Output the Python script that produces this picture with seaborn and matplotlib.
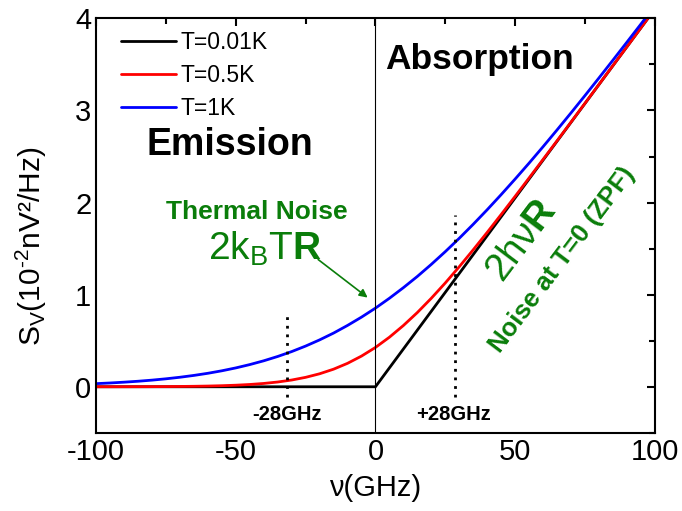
import pandas as pd
import matplotlib
matplotlib.use('Agg')
import matplotlib.pyplot as plt
import seaborn as sns

# frequency grid (GHz) and spectral density S_V (10^-2 nV^2/Hz)
freq = [-100, -95, -90, -85, -80, -75, -70, -65, -60, -55, -50, -45, -40, -35, -30,
        -25, -20, -15, -10, -5, 0, 5, 10, 15, 20, 25, 30, 35, 40, 45, 50, 55, 60,
        65, 70, 75, 80, 85, 90, 95, 100]
s_001K = [0, 0, 0, 0, 0, 0, 0, 0, 0, 0, 0, 0, 0, 0, 0, 0, 0, 0, 0, 0, 0,
          0.205, 0.41, 0.615, 0.82, 1.025, 1.23, 1.435, 1.64, 1.845, 2.05, 2.255,
          2.46, 2.665, 2.87, 3.075, 3.28, 3.485, 3.69, 3.895, 4.10]
s_05K = [0.0003, 0.0004, 0.0007, 0.0010, 0.0015, 0.0023, 0.0035, 0.0052, 0.0078,
         0.0116, 0.0170, 0.0249, 0.0360, 0.0517, 0.0732, 0.1024, 0.141, 0.191,
         0.2545, 0.333, 0.427, 0.538, 0.665, 0.806, 0.961, 1.127, 1.303, 1.487,
         1.676, 1.870, 2.067, 2.267, 2.468, 2.670, 2.873, 3.077, 3.281, 3.486,
         3.690, 3.895, 4.100]
s_1K = [0.0341, 0.0412, 0.0499, 0.0600, 0.0721, 0.0865, 0.1034, 0.1233, 0.1464,
        0.1735, 0.2048, 0.2409, 0.282, 0.329, 0.382, 0.442, 0.509, 0.583, 0.666,
        0.756, 0.854, 0.961, 1.076, 1.198, 1.329, 1.467, 1.612, 1.764, 1.922,
        2.086, 2.255, 2.428, 2.606, 2.788, 2.973, 3.161, 3.352, 3.545, 3.740,
        3.936, 4.134]
temps = ['T=0.01K', 'T=0.5K', 'T=1K']
colors = ['black', 'red', 'blue']

df = pd.concat([
    pd.DataFrame({'nu': freq, 'S': s, 'T': t})
    for s, t in zip([s_001K, s_05K, s_1K], temps)
])

sns.set_style('white')
plt.rcParams['font.family'] = ['Liberation Sans', 'DejaVu Sans']
plt.rcParams['mathtext.fontset'] = 'custom'
plt.rcParams['mathtext.rm'] = 'Liberation Sans'
plt.rcParams['mathtext.it'] = 'Liberation Sans:italic'
plt.rcParams['mathtext.bf'] = 'Liberation Sans:bold'
plt.rcParams['axes.unicode_minus'] = False
for key in ['text.color', 'axes.labelcolor', 'xtick.color', 'ytick.color']:
    plt.rcParams[key] = 'black'

green = '#0a7d0a'

fig = plt.figure(figsize=(6.82, 5.11), dpi=100)
ax = fig.add_axes([0.141, 0.153, 0.819, 0.811])

sns.lineplot(data=df, x='nu', y='S', hue='T', hue_order=temps,
             palette=colors, linewidth=2, sort=False, ax=ax)

ax.axvline(0, color='black', linewidth=0.8)

# dotted markers at +-28 GHz
ax.plot([-31.7, -31.7], [-0.11, 0.80], color='black', lw=2, linestyle=(0, (1, 2.1)))
ax.plot([28.5, 28.5], [-0.11, 1.87], color='black', lw=2, linestyle=(0, (1, 2.1)))
ax.text(-31.7, -0.30, '-28GHz', ha='center', va='center', fontsize=14.5, fontweight='bold')
ax.text(28.0, -0.30, '+28GHz', ha='center', va='center', fontsize=14.5, fontweight='bold')

ax.text(-52, 2.63, 'Emission', ha='center', va='center', fontsize=27, fontweight='bold')
ax.text(37.4, 3.55, 'Absorption', ha='center', va='center', fontsize=25.5, fontweight='bold')

ax.text(-42.4, 1.90, 'Thermal Noise', ha='center', va='center', fontsize=19,
        fontweight='bold', color=green)
ax.text(-39.5, 1.50, r'2k$_\mathregular{B}$T$\mathbf{R}$', ha='center', va='center',
        fontsize=28, color=green)
ax.annotate('', xy=(-2.0, 0.95), xytext=(-21.3, 1.40),
            arrowprops=dict(arrowstyle='-|>', color=green, lw=1.2, mutation_scale=12))

ax.text(52.4, 1.58, r'2hν$\mathbf{R}$', ha='center', va='center', fontsize=28,
        color=green, rotation=53, rotation_mode='anchor')
ax.text(67.0, 1.38, 'Noise at T=0 (ZPF)', ha='center', va='center', fontsize=18.5,
        fontweight='bold', color=green, rotation=53, rotation_mode='anchor')

ax.set_xlim(-100, 100)
ax.set_ylim(-0.5, 4)
ax.set_xticks([-100, -50, 0, 50, 100])
ax.set_xticks([-75, -25, 25, 75], minor=True)
ax.set_yticks([0, 1, 2, 3, 4])
ax.set_yticks([-0.5, 0.5, 1.5, 2.5, 3.5], minor=True)
ax.tick_params(which='both', direction='in', top=True, right=True, width=1.5,
               labelsize=21)
ax.tick_params(which='major', length=6)
ax.tick_params(which='minor', length=4)
for sp in ax.spines.values():
    sp.set_linewidth(1.5)
    sp.set_color('black')

ax.set_xlabel('ν(GHz)', fontsize=21)
ax.set_ylabel(r'S$_\mathregular{V}$(10$^{\text{-}2}$nV²/Hz)', fontsize=21.5)
ax.xaxis.set_label_coords(0.499, -0.10)
ax.yaxis.set_label_coords(-0.085, 0.45)

leg = ax.get_legend()
handles = leg.legend_handles
labels = [t.get_text() for t in leg.get_texts()]
ax.legend(handles, labels, loc='upper left', bbox_to_anchor=(0.045, 0.97),
          frameon=False, fontsize=16.5, handlelength=2.4, handletextpad=0.2,
          labelspacing=0.45, borderpad=0, borderaxespad=0)
for h in ax.get_legend().legend_handles:
    h.set_linewidth(2)

fig.savefig('out.png', dpi=100)
